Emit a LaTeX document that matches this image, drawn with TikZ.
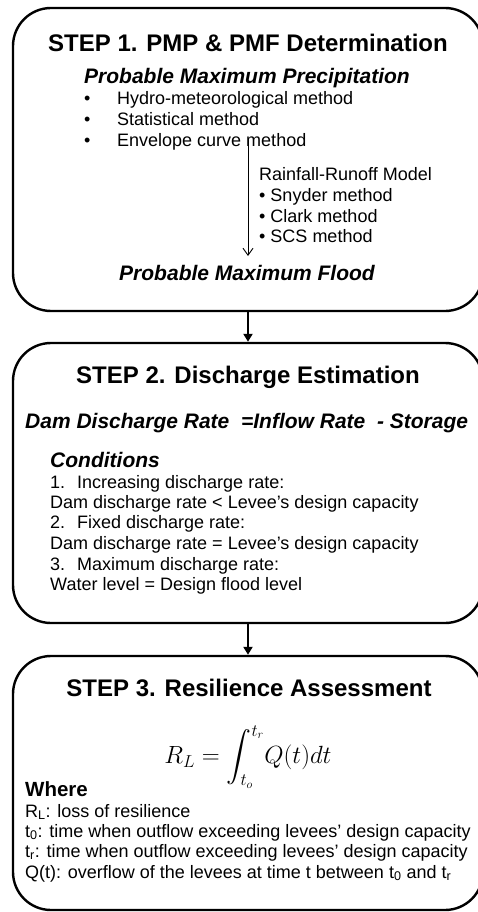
\documentclass[tikz,border=0pt]{standalone}
\usepackage{amsmath}
\usepackage{exscale}
\usepackage{fontspec}
\setmainfont{Liberation Sans}
\usetikzlibrary{arrows.meta}

\begin{document}
\begin{tikzpicture}[x=1pt,y=-1pt,
  stage/.style={draw,line width=2.4pt,rounded corners=38pt,minimum width=470pt,inner sep=0pt},
  flow/.style={line width=2pt,-{Triangle[length=8pt,width=9pt]}},
  model/.style={line width=0.9pt,-{Straight Barb[length=7pt,width=10pt]}},
  title/.style={font=\fontsize{24}{28}\selectfont\bfseries,inner sep=0pt},
  subhead/.style={font=\fontsize{21}{24}\selectfont\bfseries\itshape,inner sep=0pt},
  body/.style={font=\fontsize{18}{21}\selectfont,inner sep=0pt,anchor=base west},
  bodyhead/.style={font=\fontsize{20.5}{24}\selectfont\bfseries,inner sep=0pt,anchor=base west}]
\useasboundingbox (0,0) rectangle (478,912);
\clip (0,0) rectangle (478,912);

% the three stage boxes
\node[stage,minimum height=303pt] (s1) at (248,159.5) {};
\node[stage,minimum height=280pt] (s2) at (248,483) {};
\node[stage,minimum height=254pt] (s3) at (248,783) {};

\draw[flow] (s1.south) -- (s2.north);
\draw[flow] (s2.south) -- (s3.north);

% stage 1
\node[title] (t1) at (248,43) {STEP 1. PMP \& PMF Determination};
\node[subhead] (pmp) at (247,78) {Probable Maximum Precipitation};
\foreach \yy/\txt [count=\i] in {105/Hydro-meteorological method,126/Statistical method,147/Envelope curve method}{
  \node[body] (b\i) at (84,\yy) {•};
  \node[body] (m\i) at (117,\yy) {\txt};
}
\node[body] (rr) at (259,180) {Rainfall-Runoff Model};
\node[body] (rr1) at (259,201) {• Snyder method};
\node[body] (rr2) at (259,222) {• Clark method};
\node[body] (rr3) at (259,242) {• SCS method};
\node[subhead] (pmf) at (247,273) {Probable Maximum Flood};
\coordinate (rrtop) at (248,139);
\coordinate (rrend) at (248,256);
\draw[model] (rrtop) -- (rrend);

% stage 2
\node[title] (t2) at (248,377) {STEP 2. Discharge Estimation};
\node[subhead,anchor=west] (eq) at (25,423) {Dam Discharge Rate\ \ =Inflow Rate\ \ - Storage};
\node[subhead,anchor=west] (cond) at (50,460) {Conditions};
\node[body] (c1n) at (50,488) {1.};
\node[body] (c1) at (77,488) {Increasing discharge rate:};
\node[body] (c1r) at (50,508) {Dam discharge rate < Levee’s design capacity};
\node[body] (c2n) at (50,528) {2.};
\node[body] (c2) at (77,528) {Fixed discharge rate:};
\node[body] (c2r) at (50,549) {Dam discharge rate = Levee’s design capacity};
\node[body] (c3n) at (50,570) {3.};
\node[body] (c3) at (77,570) {Maximum discharge rate:};
\node[body] (c3r) at (50,590) {Water level = Design flood level};

% stage 3
\node[title] (t3) at (249,688) {STEP 3. Resilience Assessment};
\node[inner sep=0pt,font=\fontsize{26}{30}\selectfont] (rl) at (248,757)
  {$\displaystyle R_L=\int_{t_o}^{t_r}\!Q(t)dt$};
\node[bodyhead] (wh) at (25,796) {Where};
\node[body] (w1) at (25,817) {R\textsubscript{L}: loss of resilience};
\node[body] (w2) at (25,837) {t\textsubscript{0}: time when outflow exceeding levees’ design capacity};
\node[body] (w3) at (25,857) {t\textsubscript{r}: time when outflow exceeding levees’ design capacity};
\node[body] (w4) at (25,878) {Q(t): overflow of the levees at time t between t\textsubscript{0} and t\textsubscript{r}};
\end{tikzpicture}
\end{document}
